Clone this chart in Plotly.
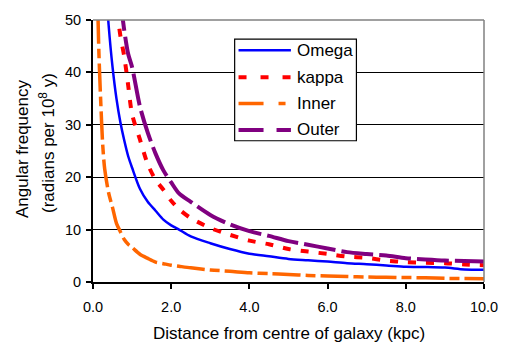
import plotly.graph_objects as go

# ---------------- data ----------------
distance_kpc = [0.1, 0.15, 0.2, 0.25, 0.3, 0.4, 0.5, 0.6, 0.7, 0.8, 0.9, 1.0,
                1.2, 1.4, 1.6, 1.8, 2.0, 2.2, 2.5, 3.0, 3.5, 4.0, 4.5, 5.0,
                5.5, 6.0, 6.5, 7.0, 7.5, 8.0, 8.5, 9.0, 9.5, 10.0]
omega = [None, None, None, None, 60, 49, 41, 35, 30.5, 27, 24, 21.8,
         17.8, 15.3, 13.6, 11.9, 10.8, 10.0, 8.7, 7.4, 6.3, 5.4, 4.9, 4.4,
         4.15, 3.9, 3.6, 3.4, 3.17, 2.9, 2.86, 2.75, 2.4, 2.35]
kappa = [None, None, None, None, None, None, 62, 53, 47, 43, 37.5, 32,
         27.2, 22.5, 19.5, 17.6, 15.5, 13.9, 12.2, 10.3, 9.0, 7.9, 7.2, 6.3,
         5.8, 5.35, 4.85, 4.6, 4.1, 3.8, 3.67, 3.6, 3.36, 3.2]
inner = [60, 44, 34, 26, 21.5, 17, 14.2, 11.2, 9.6, 8.1, 7.2, 6.6,
         5.3, 4.5, 3.8, 3.5, 3.2, 3.0, 2.7, 2.3, 2.05, 1.75, 1.6, 1.45,
         1.25, 1.15, 1.05, 0.95, 0.9, 0.85, 0.8, 0.7, 0.65, 0.6]
outer = [None, None, None, None, None, None, None, None, 54, 48, 43.5, 41,
         33.5, 28.5, 24.5, 21.3, 19.0, 16.9, 15.3, 12.8, 11.0, 9.7, 8.8, 7.8,
         7.1, 6.4, 5.7, 5.35, 5.05, 4.55, 4.3, 4.1, 4.0, 3.9]

series_names = ["Omega", "kappa", "Inner", "Outer"]
x_tick_vals = [0, 2, 4, 6, 8, 10]
x_tick_text = ["0.0", "2.0", "4.0", "6.0", "8.0", "10.0"]
y_tick_vals = [0, 10, 20, 30, 40, 50]
x_title = "Distance from centre of galaxy (kpc)"
y_title_1 = "Angular frequency"
y_title_2 = "(radians per 10<sup>8</sup> y)"

# ---------------- styles ----------------
colors = ["#0000FF", "#FF0000", "#FF6600", "#800080"]
widths = [2.5, 4, 3.5, 4]
dashes = ["solid", "8px,10px", "28px,5px,10px,5px", "32px,6px"]
legend_dashes = ["solid", "8px,14px", "25px,15px,7px,15px", "25px,13px"]
FONT = "Liberation Sans, Arial, sans-serif"

W, H = 510, 342
L, R, T, B = 93, 14, 14, 60
pw, ph = W - L - R, H - T - B


def px(x):
    return (x - L) / pw


def py(y):
    return (H - B - y) / ph


fig = go.Figure()
for name, ys, c, w, d in zip(series_names, [omega, kappa, inner, outer],
                             colors, widths, dashes):
    fig.add_trace(go.Scatter(x=distance_kpc, y=ys, mode="lines", name=name,
                             line=dict(color=c, width=w, dash=d,
                                       shape="spline", smoothing=0.8),
                             connectgaps=False, showlegend=False))

shapes = [
    # grey top and right border of the plot area
    dict(type="line", xref="paper", yref="paper", x0=0, x1=1, y0=1, y1=1,
         line=dict(color="#808080", width=1.5)),
    dict(type="line", xref="paper", yref="paper", x0=1, x1=1, y0=0, y1=1,
         line=dict(color="#808080", width=1.5)),
    # legend box
    dict(type="rect", xref="paper", yref="paper", x0=px(239), x1=px(364.5),
         y0=py(137.5), y1=py(33.5), line=dict(color="black", width=1.2),
         fillcolor="white", layer="above"),
]
annotations = []
row_y = [45, 72.5, 99.5, 126.5]
for name, c, w, d, yy in zip(series_names, colors, widths, legend_dashes, row_y):
    shapes.append(dict(type="line", xref="paper", yref="paper",
                       x0=px(243), x1=px(297), y0=py(yy), y1=py(yy),
                       line=dict(color=c, width=w, dash=d), layer="above"))
    annotations.append(dict(text=name, xref="paper", yref="paper",
                            x=px(301.5), y=py(yy), xanchor="left",
                            yanchor="middle", showarrow=False,
                            font=dict(size=17, color="black", family=FONT)))

annotations += [
    dict(text=x_title, xref="paper", yref="paper", x=0.5, y=0, yshift=-51,
         xanchor="center", yanchor="middle", showarrow=False,
         font=dict(size=17, color="black", family=FONT)),
    dict(text=y_title_1, xref="paper", yref="paper", x=0, xshift=-71, y=0.5,
         yshift=2, xanchor="center", yanchor="middle", textangle=-90,
         showarrow=False, font=dict(size=17, color="black", family=FONT)),
    dict(text=y_title_2, xref="paper", yref="paper", x=0, xshift=-46, y=0.5,
         yshift=8, xanchor="center", yanchor="middle", textangle=-90,
         showarrow=False, font=dict(size=17, color="black", family=FONT)),
]

fig.update_layout(
    width=W, height=H,
    margin=dict(l=L, r=R, t=T, b=B, pad=0),
    paper_bgcolor="white", plot_bgcolor="white",
    font=dict(family=FONT, color="black"),
    shapes=shapes, annotations=annotations, showlegend=False,
    xaxis=dict(range=[0, 10], tickvals=x_tick_vals, ticktext=x_tick_text,
               showgrid=False, zeroline=False, showline=True,
               linecolor="black", linewidth=2, ticks="outside", ticklen=5,
               tickcolor="black", tickwidth=1.5, ticklabelstandoff=6,
               ticklabeloverflow="allow",
               tickfont=dict(size=14.5, family=FONT, color="black")),
    yaxis=dict(range=[0, 50], tickvals=y_tick_vals, showgrid=True,
               gridcolor="black", gridwidth=1.3, zeroline=False,
               showline=True, linecolor="black", linewidth=2,
               ticks="outside", ticklen=5, tickcolor="black", tickwidth=1.5,
               ticklabelstandoff=2,
               tickfont=dict(size=14.5, family=FONT, color="black")),
)

fig.write_html("out.html")
